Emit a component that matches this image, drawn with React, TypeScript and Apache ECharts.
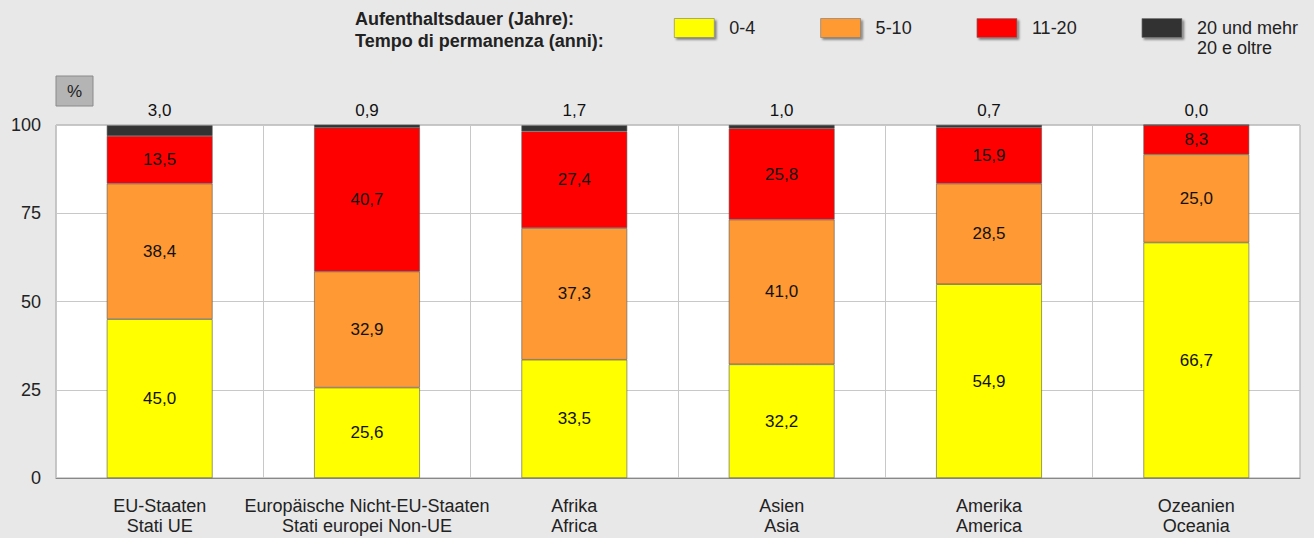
import React, { useEffect, useRef } from "react";
import * as echarts from "echarts";

const categories = [
  "EU-Staaten\nStati UE",
  "Europäische Nicht-EU-Staaten\nStati europei Non-UE",
  "Afrika\nAfrica",
  "Asien\nAsia",
  "Amerika\nAmerica",
  "Ozeanien\nOceania",
];
const seriesNames = ["0-4", "5-10", "11-20", "20 und mehr\n20 e oltre"];
const years0to4 = [45.0, 25.6, 33.5, 32.2, 54.9, 66.7];
const years5to10 = [38.4, 32.9, 37.3, 41.0, 28.5, 25.0];
const years11to20 = [13.5, 40.7, 27.4, 25.8, 15.9, 8.3];
const years20plus = [3.0, 0.9, 1.7, 1.0, 0.7, 0.0];
const yTicks = [0, 25, 50, 75, 100];
const colors = ["#ffff00", "#ff9933", "#ff0000", "#333333"];

const FONT = "Liberation Sans, Arial, sans-serif";
const fmt = (v: number) => v.toFixed(1).replace(".", ",");

export default function App() {
  const ref = useRef<HTMLDivElement>(null);
  useEffect(() => {
    document.body.style.margin = "0";
    const chart = echarts.init(ref.current!, undefined, { renderer: "svg" });
    const data = [years0to4, years5to10, years11to20, years20plus];
    const series: any[] = data.map((d, i) => ({
      name: seriesNames[i],
      type: "bar",
      stack: "total",
      barWidth: "51%",
      data: d,
      itemStyle: { color: colors[i], borderColor: "#555", borderWidth: 0.6 },
      label: {
        show: true,
        position: i === 3 ? "top" : "inside",
        distance: 6,
        color: "#111",
        fontFamily: FONT,
        fontSize: 17,
        formatter: (p: any) => fmt(p.value),
      },
    }));
    chart.setOption({
      animation: false,
      backgroundColor: "#e8e8e8",
      grid: {
        left: 56,
        right: 14,
        top: 125,
        bottom: 60,
        show: true,
        backgroundColor: "#ffffff",
        borderColor: "#a0a0a0",
        borderWidth: 1,
      },
      legend: {
        left: 669,
        top: 13,
        itemWidth: 40,
        itemHeight: 19,
        itemGap: 65,
        icon: "rect",
        data: seriesNames.map((n, i) => ({
          name: n,
          itemStyle: {
            color: colors[i],
            borderColor: "#777",
            borderWidth: 0.6,
            shadowColor: "rgba(0,0,0,0.45)",
            shadowOffsetX: 2,
            shadowOffsetY: 2,
            shadowBlur: 2,
          },
        })),
        formatter: (name: string) => name.split("\n")[0],
        textStyle: {
          fontFamily: FONT,
          fontSize: 18,
          color: "#222",
          padding: [0, 0, 0, 10],
          lineHeight: 20,
        },
        selectedMode: false,
      },
      xAxis: {
        type: "category",
        data: categories,
        axisLine: { lineStyle: { color: "#888" } },
        axisTick: { show: false },
        splitLine: { show: true, lineStyle: { color: "#c8c8c8" } },
        axisLabel: {
          interval: 0,
          margin: 18,
          fontFamily: FONT,
          fontSize: 18,
          color: "#222",
          lineHeight: 20,
        },
      },
      yAxis: {
        type: "value",
        min: yTicks[0],
        max: yTicks[yTicks.length - 1],
        interval: 25,
        axisLine: { show: false },
        axisTick: { show: false },
        splitLine: { lineStyle: { color: "#c8c8c8" } },
        axisLabel: { margin: 15, fontFamily: FONT, fontSize: 18, color: "#222" },
      },
      graphic: [
        {
          type: "text",
          left: 355,
          top: 8,
          style: {
            text: "Aufenthaltsdauer (Jahre):\nTempo di permanenza (anni):",
            font: "bold 18px " + FONT,
            fill: "#222",
            lineHeight: 22,
          },
        },
        {
          type: "text",
          x: 1197,
          y: 48,
          style: {
            text: "20 e oltre",
            font: "18px " + FONT,
            fill: "#222",
            verticalAlign: "middle",
          },
        },
        {
          type: "rect",
          shape: { x: 56, y: 76, width: 37, height: 30 },
          style: { fill: "#b4b4b4", stroke: "#8a8a8a", lineWidth: 1 },
        },
        {
          type: "text",
          x: 74.5,
          y: 91,
          style: {
            text: "%",
            font: "17px " + FONT,
            fill: "#222",
            align: "center",
            verticalAlign: "middle",
          },
        },
      ],
      series,
    });
    return () => chart.dispose();
  }, []);
  return <div ref={ref} style={{ width: 1314, height: 538 }} />;
}
